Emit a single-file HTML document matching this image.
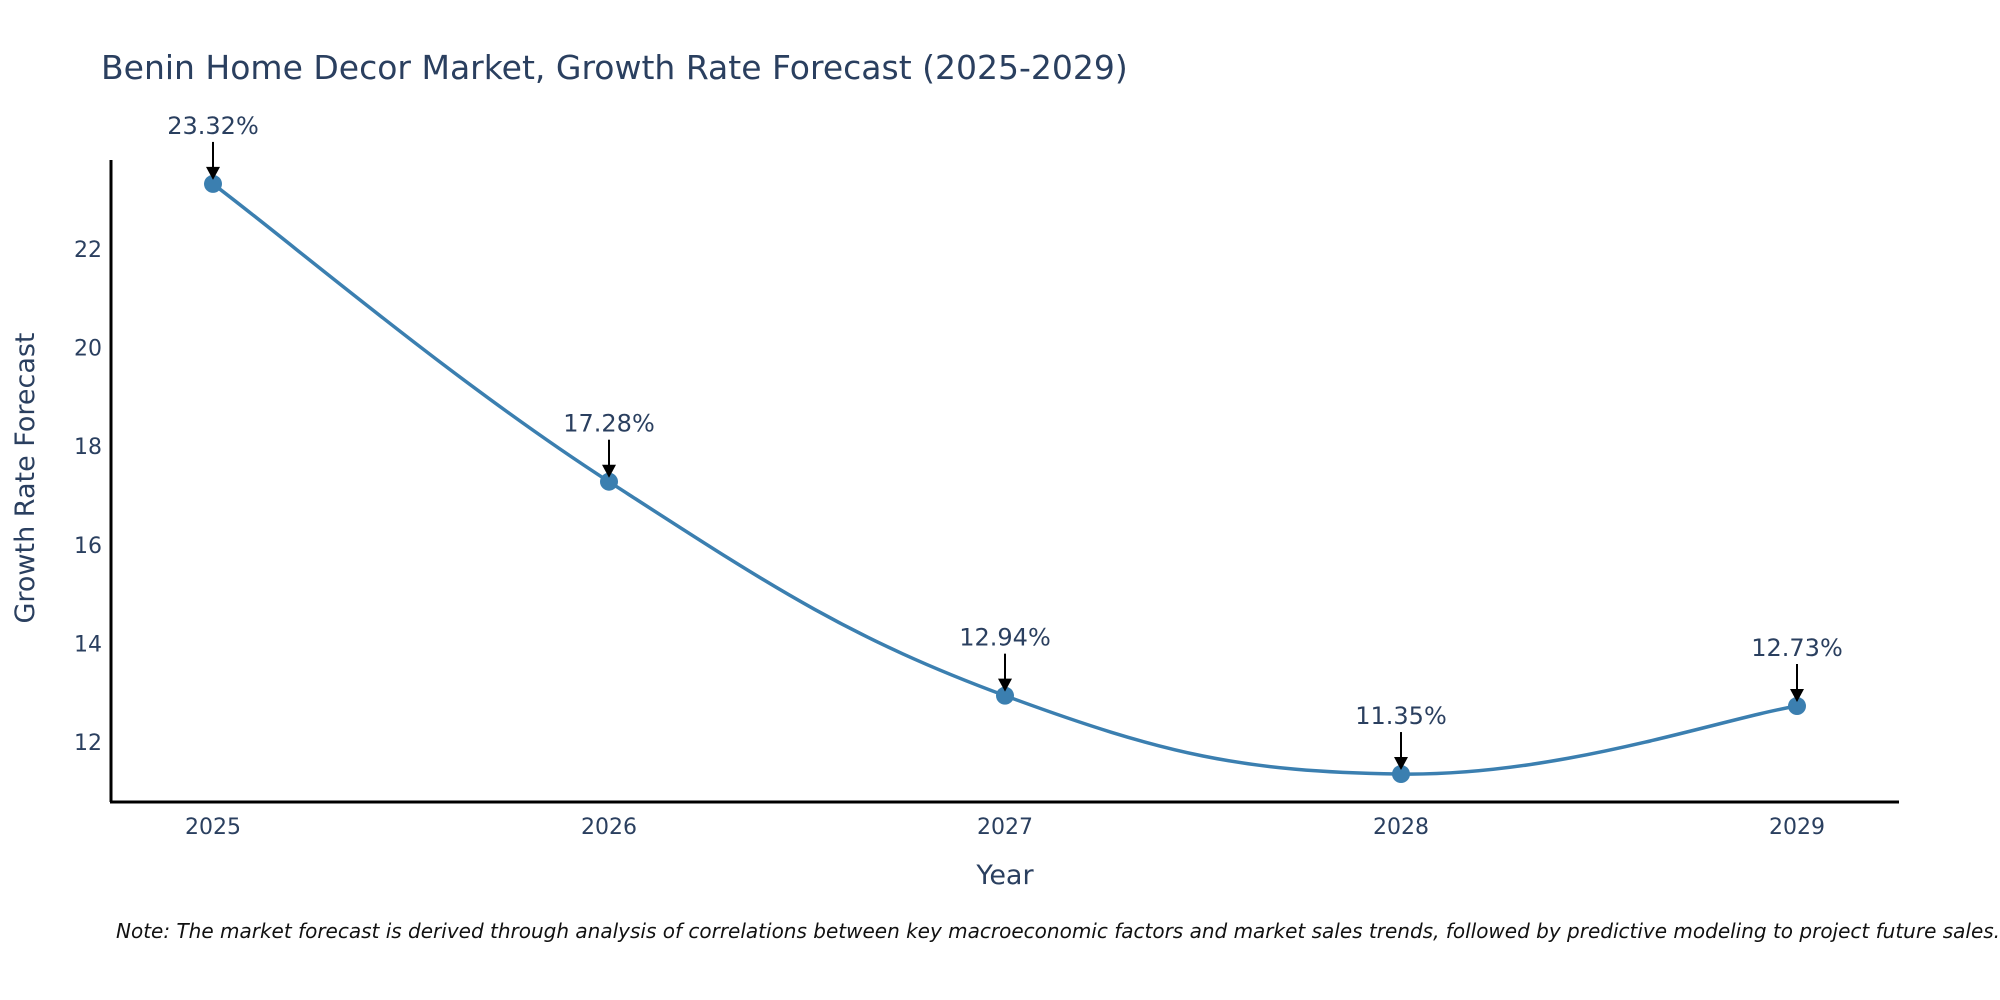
<!DOCTYPE html>
<html><head><meta charset="utf-8"><style>
body{margin:0;background:#fff;}
svg{display:block;font-family:"DejaVu Sans","Liberation Sans",sans-serif;}
</style></head><body>
<svg id="chart" width="2000" height="1000">
<text x="101" y="79" font-size="33" fill="#2a3f5f">Benin Home Decor Market, Growth Rate Forecast (2025-2029)</text>
<g id="yticks"></g>
<g id="xticks"></g>
<line x1="111" y1="160" x2="111" y2="802" stroke="#000" stroke-width="3"/>
<line x1="110" y1="802" x2="1899" y2="802" stroke="#000" stroke-width="3"/>
<path id="series" fill="none" stroke="#3b7fb0" stroke-width="3.5"/>
<g id="points"></g>
<g id="annots"></g>
<text x="1005" y="884" font-size="27" fill="#2a3f5f" text-anchor="middle">Year</text>
<text transform="translate(34,478) rotate(-90)" font-size="27" fill="#2a3f5f" text-anchor="middle">Growth Rate Forecast</text>
<text x="116" y="938" font-size="20" font-style="italic" fill="#111">Note: The market forecast is derived through analysis of correlations between key macroeconomic factors and market sales trends, followed by predictive modeling to project future sales.</text>
</svg>
<script>
const years = [2025, 2026, 2027, 2028, 2029];
const values = [23.32, 17.28, 12.94, 11.35, 12.73];
const labels = ["23.32%", "17.28%", "12.94%", "11.35%", "12.73%"];
const yTicks = [12, 14, 16, 18, 20, 22];
const NS = "http://www.w3.org/2000/svg";
function xs(v){ return 213 + (v - 2025) * 396; }
function ys(v){ return 742 - (v - 12) * 49.3; }
function mk(tag, attrs, parent){ const e=document.createElementNS(NS,tag); for(const k in attrs) e.setAttribute(k,attrs[k]); parent.appendChild(e); return e; }
const yg=document.getElementById('yticks');
yTicks.forEach(t=>{ const e=mk('text',{x:102,y:ys(t)+8,'font-size':22,fill:'#2a3f5f','text-anchor':'end'},yg); e.textContent=t;

 });
const xg=document.getElementById('xticks');
years.forEach(y=>{ const e=mk('text',{x:xs(y),y:834,'font-size':22,fill:'#2a3f5f','text-anchor':'middle'},xg); e.textContent=y;

 });
const P=years.map((y,i)=>[xs(y),ys(values[i])]);
let d='M'+P[0][0]+','+P[0][1];
const s=0.2;
for(let i=0;i<P.length-1;i++){
  const p0=P[Math.max(i-1,0)],p1=P[i],p2=P[i+1],p3=P[Math.min(i+2,P.length-1)];
  const c1=[p1[0]+(p2[0]-p0[0])*s,p1[1]+(p2[1]-p0[1])*s];
  const c2=[p2[0]-(p3[0]-p1[0])*s,p2[1]-(p3[1]-p1[1])*s];
  d+=' C'+c1[0]+','+c1[1]+' '+c2[0]+','+c2[1]+' '+p2[0]+','+p2[1];
}
document.getElementById('series').setAttribute('d',d);
const pg=document.getElementById('points'), ag=document.getElementById('annots');
P.forEach((p,i)=>{
  const c=mk('circle',{cx:p[0],cy:p[1],r:9,fill:'#3b7fb0'},pg);
  
  
  const l=mk('line',{x1:p[0],y1:p[1]-42,x2:p[0],y2:p[1]-14,stroke:'#000','stroke-width':2},ag);
  
  
  const a=mk('polygon',{points:(p[0]-7)+','+(p[1]-17)+' '+(p[0]+7)+','+(p[1]-17)+' '+p[0]+','+(p[1]-4),fill:'#000'},ag);
  
  
  const t=mk('text',{x:p[0],y:p[1]-50,'font-size':24,fill:'#2a3f5f','text-anchor':'middle'},ag);
  t.textContent=labels[i];
  
  
});
</script>
</body></html>
